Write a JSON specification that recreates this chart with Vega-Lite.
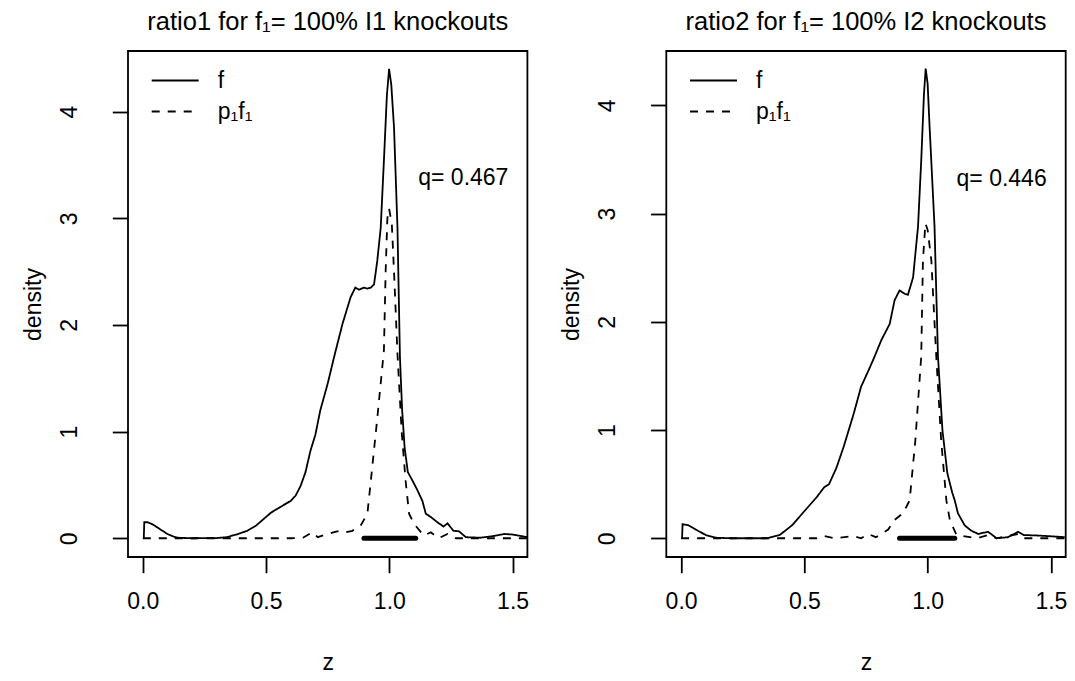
{
  "$schema": "https://vega.github.io/schema/vega-lite/v6.json",
  "background": "white",
  "padding": {"left": 21, "top": 8, "right": 5, "bottom": 5},
  "bounds": "flush",
  "spacing": 138.3,
  "config": {
    "font": "Liberation Sans",
    "view": {"stroke": "black", "strokeWidth": 1.8},
    "axis": {
      "domain": false, "grid": false, "ticks": true, "tickSize": 15.7, "tickWidth": 1.8, "tickColor": "black",
      "labelFont": "Liberation Sans", "labelFontSize": 23, "labelColor": "black", "labelFlush": false, "labelOverlap": false,
      "titleFont": "Liberation Sans", "titleFontSize": 23, "titleFontWeight": "normal", "titleColor": "black"
    },
    "title": {"font": "Liberation Sans", "fontSize": 25.5, "fontWeight": "normal", "color": "black"}
  },
  "resolve": {"legend": {"strokeDash": "independent"}, "scale": {"x": "independent", "y": "independent", "strokeDash": "independent"}},
  "datasets": {
    "L": [
      {"series": "f", "x": 0.004, "y": 0}, {"series": "f", "x": 0.006, "y": 0.15}, {"series": "f", "x": 0.02, "y": 0.15},
      {"series": "f", "x": 0.04, "y": 0.13}, {"series": "f", "x": 0.06, "y": 0.10}, {"series": "f", "x": 0.08, "y": 0.07},
      {"series": "f", "x": 0.10, "y": 0.04}, {"series": "f", "x": 0.12, "y": 0.02}, {"series": "f", "x": 0.14, "y": 0.005},
      {"series": "f", "x": 0.2, "y": 0.0}, {"series": "f", "x": 0.3, "y": 0.002}, {"series": "f", "x": 0.34, "y": 0.01},
      {"series": "f", "x": 0.38, "y": 0.035}, {"series": "f", "x": 0.424, "y": 0.07}, {"series": "f", "x": 0.46, "y": 0.12},
      {"series": "f", "x": 0.49, "y": 0.18}, {"series": "f", "x": 0.52, "y": 0.24}, {"series": "f", "x": 0.545, "y": 0.275},
      {"series": "f", "x": 0.57, "y": 0.31}, {"series": "f", "x": 0.6, "y": 0.35}, {"series": "f", "x": 0.62, "y": 0.40},
      {"series": "f", "x": 0.64, "y": 0.49}, {"series": "f", "x": 0.66, "y": 0.62}, {"series": "f", "x": 0.68, "y": 0.82},
      {"series": "f", "x": 0.70, "y": 0.97}, {"series": "f", "x": 0.72, "y": 1.2}, {"series": "f", "x": 0.75, "y": 1.45},
      {"series": "f", "x": 0.776, "y": 1.7}, {"series": "f", "x": 0.81, "y": 2.01}, {"series": "f", "x": 0.843, "y": 2.26},
      {"series": "f", "x": 0.862, "y": 2.35}, {"series": "f", "x": 0.877, "y": 2.33}, {"series": "f", "x": 0.897, "y": 2.35},
      {"series": "f", "x": 0.911, "y": 2.34}, {"series": "f", "x": 0.925, "y": 2.35}, {"series": "f", "x": 0.938, "y": 2.38},
      {"series": "f", "x": 0.951, "y": 2.60}, {"series": "f", "x": 0.965, "y": 2.91}, {"series": "f", "x": 0.978, "y": 3.54},
      {"series": "f", "x": 0.99, "y": 4.15}, {"series": "f", "x": 0.999, "y": 4.40}, {"series": "f", "x": 1.008, "y": 4.25},
      {"series": "f", "x": 1.019, "y": 3.85}, {"series": "f", "x": 1.033, "y": 2.91}, {"series": "f", "x": 1.043, "y": 1.70},
      {"series": "f", "x": 1.052, "y": 1.2}, {"series": "f", "x": 1.062, "y": 0.85}, {"series": "f", "x": 1.075, "y": 0.62},
      {"series": "f", "x": 1.094, "y": 0.54}, {"series": "f", "x": 1.114, "y": 0.45}, {"series": "f", "x": 1.134, "y": 0.35},
      {"series": "f", "x": 1.148, "y": 0.23}, {"series": "f", "x": 1.168, "y": 0.20}, {"series": "f", "x": 1.195, "y": 0.15},
      {"series": "f", "x": 1.22, "y": 0.11}, {"series": "f", "x": 1.236, "y": 0.14}, {"series": "f", "x": 1.26, "y": 0.07},
      {"series": "f", "x": 1.283, "y": 0.065}, {"series": "f", "x": 1.31, "y": 0.01}, {"series": "f", "x": 1.37, "y": 0.005},
      {"series": "f", "x": 1.42, "y": 0.02}, {"series": "f", "x": 1.466, "y": 0.04}, {"series": "f", "x": 1.5, "y": 0.035},
      {"series": "f", "x": 1.56, "y": 0.01},
      {"series": "p₁f₁", "x": 0.0, "y": 0}, {"series": "p₁f₁", "x": 0.6, "y": 0}, {"series": "p₁f₁", "x": 0.65, "y": 0.005},
      {"series": "p₁f₁", "x": 0.688, "y": 0.056}, {"series": "p₁f₁", "x": 0.71, "y": 0.01}, {"series": "p₁f₁", "x": 0.75, "y": 0.04},
      {"series": "p₁f₁", "x": 0.78, "y": 0.06}, {"series": "p₁f₁", "x": 0.80, "y": 0.07}, {"series": "p₁f₁", "x": 0.82, "y": 0.056},
      {"series": "p₁f₁", "x": 0.85, "y": 0.07}, {"series": "p₁f₁", "x": 0.884, "y": 0.12}, {"series": "p₁f₁", "x": 0.911, "y": 0.23},
      {"series": "p₁f₁", "x": 0.925, "y": 0.54}, {"series": "p₁f₁", "x": 0.95, "y": 1.1}, {"series": "p₁f₁", "x": 0.978, "y": 1.76},
      {"series": "p₁f₁", "x": 0.985, "y": 2.5}, {"series": "p₁f₁", "x": 0.992, "y": 3.0}, {"series": "p₁f₁", "x": 0.999, "y": 3.09},
      {"series": "p₁f₁", "x": 1.01, "y": 2.95}, {"series": "p₁f₁", "x": 1.019, "y": 2.5}, {"series": "p₁f₁", "x": 1.033, "y": 1.73},
      {"series": "p₁f₁", "x": 1.05, "y": 1.0}, {"series": "p₁f₁", "x": 1.066, "y": 0.54}, {"series": "p₁f₁", "x": 1.08, "y": 0.23},
      {"series": "p₁f₁", "x": 1.10, "y": 0.135}, {"series": "p₁f₁", "x": 1.14, "y": 0.025}, {"series": "p₁f₁", "x": 1.168, "y": 0.056},
      {"series": "p₁f₁", "x": 1.2, "y": 0.0}, {"series": "p₁f₁", "x": 1.236, "y": 0.04}, {"series": "p₁f₁", "x": 1.27, "y": 0.0},
      {"series": "p₁f₁", "x": 1.56, "y": 0}
    ],
    "R": [
      {"series": "f", "x": 0.004, "y": 0}, {"series": "f", "x": 0.006, "y": 0.13}, {"series": "f", "x": 0.03, "y": 0.12},
      {"series": "f", "x": 0.06, "y": 0.08}, {"series": "f", "x": 0.1, "y": 0.03}, {"series": "f", "x": 0.14, "y": 0.005},
      {"series": "f", "x": 0.2, "y": 0}, {"series": "f", "x": 0.35, "y": 0.0}, {"series": "f", "x": 0.4, "y": 0.03},
      {"series": "f", "x": 0.45, "y": 0.12}, {"series": "f", "x": 0.5, "y": 0.25}, {"series": "f", "x": 0.55, "y": 0.38},
      {"series": "f", "x": 0.58, "y": 0.47}, {"series": "f", "x": 0.6, "y": 0.5}, {"series": "f", "x": 0.63, "y": 0.65},
      {"series": "f", "x": 0.66, "y": 0.85}, {"series": "f", "x": 0.7, "y": 1.15}, {"series": "f", "x": 0.73, "y": 1.4},
      {"series": "f", "x": 0.76, "y": 1.55}, {"series": "f", "x": 0.785, "y": 1.68}, {"series": "f", "x": 0.812, "y": 1.83},
      {"series": "f", "x": 0.846, "y": 1.98}, {"series": "f", "x": 0.866, "y": 2.2}, {"series": "f", "x": 0.886, "y": 2.29},
      {"series": "f", "x": 0.907, "y": 2.26}, {"series": "f", "x": 0.92, "y": 2.25}, {"series": "f", "x": 0.941, "y": 2.41},
      {"series": "f", "x": 0.961, "y": 2.88}, {"series": "f", "x": 0.974, "y": 3.49}, {"series": "f", "x": 0.985, "y": 4.1},
      {"series": "f", "x": 0.992, "y": 4.34}, {"series": "f", "x": 1.0, "y": 4.2}, {"series": "f", "x": 1.008, "y": 3.80},
      {"series": "f", "x": 1.028, "y": 2.88}, {"series": "f", "x": 1.042, "y": 1.68}, {"series": "f", "x": 1.06, "y": 1.0},
      {"series": "f", "x": 1.08, "y": 0.6}, {"series": "f", "x": 1.1, "y": 0.42}, {"series": "f", "x": 1.11, "y": 0.35},
      {"series": "f", "x": 1.123, "y": 0.23}, {"series": "f", "x": 1.15, "y": 0.12}, {"series": "f", "x": 1.177, "y": 0.07},
      {"series": "f", "x": 1.205, "y": 0.04}, {"series": "f", "x": 1.245, "y": 0.06}, {"series": "f", "x": 1.28, "y": 0.0},
      {"series": "f", "x": 1.326, "y": 0.01}, {"series": "f", "x": 1.367, "y": 0.06}, {"series": "f", "x": 1.39, "y": 0.03},
      {"series": "f", "x": 1.45, "y": 0.025}, {"series": "f", "x": 1.556, "y": 0.01},
      {"series": "p₁f₁", "x": 0.0, "y": 0}, {"series": "p₁f₁", "x": 0.55, "y": 0}, {"series": "p₁f₁", "x": 0.58, "y": 0.02},
      {"series": "p₁f₁", "x": 0.62, "y": 0.0}, {"series": "p₁f₁", "x": 0.7, "y": 0.02}, {"series": "p₁f₁", "x": 0.73, "y": 0.0},
      {"series": "p₁f₁", "x": 0.758, "y": 0.04}, {"series": "p₁f₁", "x": 0.79, "y": 0.01}, {"series": "p₁f₁", "x": 0.812, "y": 0.04},
      {"series": "p₁f₁", "x": 0.84, "y": 0.08}, {"series": "p₁f₁", "x": 0.866, "y": 0.17}, {"series": "p₁f₁", "x": 0.9, "y": 0.23},
      {"series": "p₁f₁", "x": 0.927, "y": 0.35}, {"series": "p₁f₁", "x": 0.95, "y": 0.9}, {"series": "p₁f₁", "x": 0.974, "y": 1.68},
      {"series": "p₁f₁", "x": 0.981, "y": 2.57}, {"series": "p₁f₁", "x": 0.991, "y": 2.91}, {"series": "p₁f₁", "x": 1.0, "y": 2.85},
      {"series": "p₁f₁", "x": 1.015, "y": 2.57}, {"series": "p₁f₁", "x": 1.035, "y": 1.68}, {"series": "p₁f₁", "x": 1.055, "y": 0.9},
      {"series": "p₁f₁", "x": 1.076, "y": 0.35}, {"series": "p₁f₁", "x": 1.09, "y": 0.17}, {"series": "p₁f₁", "x": 1.117, "y": 0.03},
      {"series": "p₁f₁", "x": 1.2, "y": 0}, {"series": "p₁f₁", "x": 1.245, "y": 0.03}, {"series": "p₁f₁", "x": 1.28, "y": 0},
      {"series": "p₁f₁", "x": 1.367, "y": 0.04}, {"series": "p₁f₁", "x": 1.39, "y": 0}, {"series": "p₁f₁", "x": 1.56, "y": 0}
    ],
    "Lnote": [{"x": 1.3, "y": 3.38, "label": "q= 0.467"}],
    "Rnote": [{"x": 1.3, "y": 3.32, "label": "q= 0.446"}],
    "Lbar": [{"x": 0.897, "x2": 1.107, "y": 0}],
    "Rbar": [{"x": 0.886, "x2": 1.11, "y": 0}]
  },
  "hconcat": [
    {
      "width": 399.4, "height": 506,
      "title": {"text": "ratio1 for f₁= 100% I1 knockouts", "baseline": "alphabetic", "offset": -4, "anchor": "middle"},
      "layer": [
        {
          "data": {"name": "L"},
          "mark": {"type": "line", "color": "black", "strokeWidth": 1.8},
          "encoding": {
            "x": {"field": "x", "type": "quantitative", "scale": {"domain": [-0.06, 1.56], "nice": false, "zero": false},
              "axis": {"values": [0, 0.5, 1, 1.5], "format": ".1f", "labelBaseline": "middle", "labelPadding": 29, "title": "z", "titleBaseline": "alphabetic", "titleY": 112.3}},
            "y": {"field": "y", "type": "quantitative", "scale": {"domain": [-0.1757, 4.568], "nice": false, "zero": false},
              "axis": {"values": [0, 1, 2, 3, 4], "format": "d", "labelAngle": 270, "labelAlign": "center", "labelBaseline": "middle", "labelPadding": 43, "title": "density", "titleAngle": 270, "titleBaseline": "alphabetic", "titleAlign": "center", "titleX": -88, "titleY": 253}},
            "strokeDash": {"field": "series", "type": "nominal", "scale": {"domain": ["f", "p₁f₁"], "range": [[1, 0], [8, 8]]},
              "legend": {"orient": "none", "legendX": 22.7, "legendY": 14, "title": null, "symbolType": "M-1,0H1", "symbolSize": 2209, "symbolStrokeWidth": 1.8, "symbolStrokeColor": "black", "labelFontSize": 23, "labelColor": "black", "labelFont": "Liberation Sans", "clipHeight": 31, "rowPadding": 0, "labelOffset": 18}}
          }
        },
        {
          "data": {"name": "Lbar"},
          "mark": {"type": "rule", "color": "black", "strokeWidth": 5, "strokeCap": "round"},
          "encoding": {"x": {"field": "x", "type": "quantitative"}, "x2": {"field": "x2"}, "y": {"field": "y", "type": "quantitative"}}
        },
        {
          "data": {"name": "Lnote"},
          "mark": {"type": "text", "fontSize": 23, "color": "black", "align": "center", "baseline": "middle", "font": "Liberation Sans"},
          "encoding": {"x": {"field": "x", "type": "quantitative"}, "y": {"field": "y", "type": "quantitative"}, "text": {"field": "label"}}
        }
      ]
    },
    {
      "width": 399.4, "height": 506,
      "title": {"text": "ratio2 for f₁= 100% I2 knockouts", "baseline": "alphabetic", "offset": -4, "anchor": "middle"},
      "layer": [
        {
          "data": {"name": "R"},
          "mark": {"type": "line", "color": "black", "strokeWidth": 1.8},
          "encoding": {
            "x": {"field": "x", "type": "quantitative", "scale": {"domain": [-0.06, 1.56], "nice": false, "zero": false},
              "axis": {"values": [0, 0.5, 1, 1.5], "format": ".1f", "labelBaseline": "middle", "labelPadding": 29, "title": "z", "titleBaseline": "alphabetic", "titleY": 112.3}},
            "y": {"field": "y", "type": "quantitative", "scale": {"domain": [-0.1732, 4.5032], "nice": false, "zero": false},
              "axis": {"values": [0, 1, 2, 3, 4], "format": "d", "labelAngle": 270, "labelAlign": "center", "labelBaseline": "middle", "labelPadding": 43, "title": "density", "titleAngle": 270, "titleBaseline": "alphabetic", "titleAlign": "center", "titleX": -88, "titleY": 253}},
            "strokeDash": {"field": "series", "type": "nominal", "scale": {"domain": ["f", "p₁f₁"], "range": [[1, 0], [8, 8]]},
              "legend": {"orient": "none", "legendX": 22.7, "legendY": 14, "title": null, "symbolType": "M-1,0H1", "symbolSize": 2209, "symbolStrokeWidth": 1.8, "symbolStrokeColor": "black", "labelFontSize": 23, "labelColor": "black", "labelFont": "Liberation Sans", "clipHeight": 31, "rowPadding": 0, "labelOffset": 18}}
          }
        },
        {
          "data": {"name": "Rbar"},
          "mark": {"type": "rule", "color": "black", "strokeWidth": 5, "strokeCap": "round"},
          "encoding": {"x": {"field": "x", "type": "quantitative"}, "x2": {"field": "x2"}, "y": {"field": "y", "type": "quantitative"}}
        },
        {
          "data": {"name": "Rnote"},
          "mark": {"type": "text", "fontSize": 23, "color": "black", "align": "center", "baseline": "middle", "font": "Liberation Sans"},
          "encoding": {"x": {"field": "x", "type": "quantitative"}, "y": {"field": "y", "type": "quantitative"}, "text": {"field": "label"}}
        }
      ]
    }
  ]
}
